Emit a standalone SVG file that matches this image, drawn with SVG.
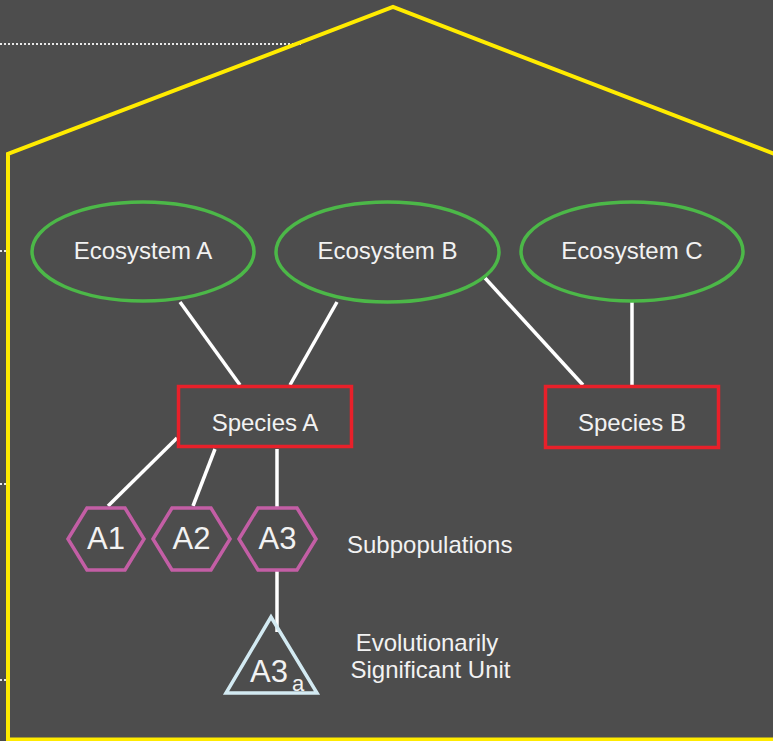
<svg xmlns="http://www.w3.org/2000/svg" width="773" height="741" viewBox="0 0 773 741">
<style>
.lbl{font-family:"Liberation Sans",Arial,sans-serif;fill:#f2f2f2;font-size:24px}
.big{font-size:31px}
.eco{fill:none;stroke:#4cb848;stroke-width:3.5}
.sp{fill:none;stroke:#e8202a;stroke-width:3.5}
.hex{fill:none;stroke:#c35ea5;stroke-width:3.5}
.esu{fill:none;stroke:#d3eaf2;stroke-width:3.5}
.con{stroke:#ffffff;stroke-width:3.5;fill:none}
.dot{stroke:#e8e8e8;stroke-width:2;stroke-dasharray:2 2;fill:none}
</style>
<rect x="0" y="0" width="773" height="741" fill="#4d4d4d"/>
<g id="guides">
<line class="dot" x1="0" y1="44" x2="301" y2="44"/>
<line class="dot" x1="0" y1="251" x2="6" y2="251"/>
<line class="dot" x1="0" y1="484" x2="6" y2="484"/>
<line class="dot" x1="0" y1="680" x2="6" y2="680"/>
</g>
<g id="house">
<polyline points="8,741 8,154 393,7 780,156" fill="none" stroke="#ffeb00" stroke-width="4"/>
<line x1="8" y1="739.5" x2="773" y2="739.5" stroke="#ffeb00" stroke-width="4"/>
</g>
<g id="connectors">
<line class="con" x1="180" y1="302" x2="240" y2="385"/>
<line class="con" x1="337" y1="302" x2="290" y2="385"/>
<line class="con" x1="485" y1="278" x2="583" y2="385"/>
<line class="con" x1="632" y1="302" x2="632" y2="386"/>
<line class="con" x1="177" y1="438" x2="108" y2="506"/>
<line class="con" x1="215" y1="449" x2="193" y2="506"/>
<line class="con" x1="277" y1="449" x2="277" y2="508"/>
<line class="con" x1="277" y1="571" x2="277" y2="632"/>
</g>
<g id="ecosystemA">
<ellipse class="eco" cx="143" cy="251.5" rx="111" ry="49.5"/>
<text class="lbl" x="143" y="259" text-anchor="middle">Ecosystem A</text>
</g>
<g id="ecosystemB">
<ellipse class="eco" cx="387.5" cy="252" rx="111.5" ry="50"/>
<text class="lbl" x="387.5" y="259" text-anchor="middle">Ecosystem B</text>
</g>
<g id="ecosystemC">
<ellipse class="eco" cx="632" cy="251.5" rx="111" ry="49.5"/>
<text class="lbl" x="632" y="259" text-anchor="middle">Ecosystem C</text>
</g>
<g id="speciesA">
<rect class="sp" x="178.5" y="386.5" width="173" height="60"/>
<text class="lbl" x="265" y="431" text-anchor="middle">Species A</text>
</g>
<g id="speciesB">
<rect class="sp" x="545.5" y="386.5" width="173" height="61"/>
<text class="lbl" x="632" y="431" text-anchor="middle">Species B</text>
</g>
<g id="A1">
<polygon class="hex" points="68,539 87,508 125,508 144,539 125,570 87,570"/>
<text class="lbl big" x="106" y="549" text-anchor="middle">A1</text>
</g>
<g id="A2">
<polygon class="hex" points="153,539 172,508 211,508 230,539 211,570 172,570"/>
<text class="lbl big" x="191.5" y="549" text-anchor="middle">A2</text>
</g>
<g id="A3">
<polygon class="hex" points="239,539 258,508 297,508 316,539 297,570 258,570"/>
<text class="lbl big" x="277.5" y="549" text-anchor="middle">A3</text>
</g>
<g id="subpopLabel">
<text class="lbl" x="347" y="553">Subpopulations</text>
</g>
<g id="A3a">
<polygon class="esu" points="271,617 226,693 317,693"/>
<text class="lbl" x="250" y="682" style="font-size:31px">A3<tspan x="292" y="691" style="font-size:22px">a</tspan></text>
</g>
<g id="esuLabel">
<text class="lbl" x="427" y="651" text-anchor="middle">Evolutionarily</text>
<text class="lbl" x="430.5" y="678" text-anchor="middle">Significant Unit</text>
</g>
</svg>
